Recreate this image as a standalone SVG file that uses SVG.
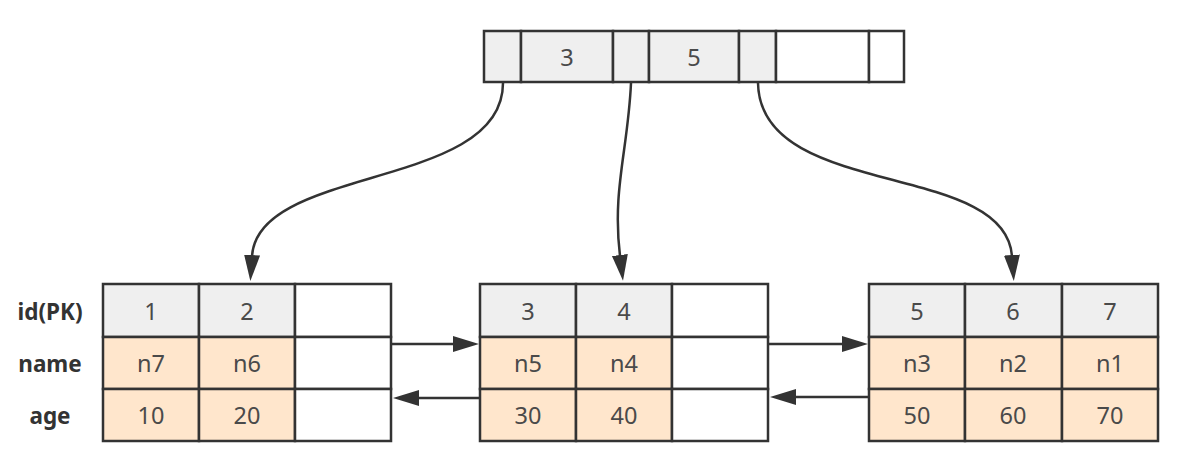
<svg xmlns="http://www.w3.org/2000/svg" width="1195" height="476" viewBox="0 0 1195 476">
<style>
.g{fill:#efefef;stroke:#333;stroke-width:2.5}
.o{fill:#ffe6cc;stroke:#333;stroke-width:2.5}
.w{fill:#fff;stroke:#333;stroke-width:2.5}
.v{font-family:"Noto Sans","Liberation Sans",sans-serif;font-size:23.5px;fill:#4a4a4a;text-anchor:middle;dominant-baseline:central}
.l{font-family:"Noto Sans","Liberation Sans",sans-serif;font-size:22.5px;font-weight:bold;fill:#333;text-anchor:middle;dominant-baseline:central}
.c{fill:none;stroke:#333;stroke-width:2.5;marker-end:url(#ah)}
</style>
<defs>
<marker id="ah" markerUnits="userSpaceOnUse" markerWidth="28" markerHeight="18" refX="1" refY="8" orient="auto">
<path d="M0,0 L26,8 L0,16 z" fill="#333"/>
</marker>
</defs>
<rect width="1195" height="476" fill="#fff"/>

<g id="root">
<rect class="g" x="484" y="31" width="37" height="51"/>
<rect class="g" x="521" y="31" width="92" height="51"/>
<rect class="g" x="613" y="31" width="36" height="51"/>
<rect class="g" x="649" y="31" width="90" height="51"/>
<rect class="g" x="739" y="31" width="37" height="51"/>
<rect class="w" x="776" y="31" width="93" height="51"/>
<rect class="w" x="869" y="31" width="35" height="51"/>
<text class="v" x="567" y="57">3</text>
<text class="v" x="694" y="57">5</text>
</g>

<g id="labels">
<text class="l" x="50" y="311">id(PK)</text>
<text class="l" x="50" y="363">name</text>
<text class="l" x="50" y="415">age</text>
</g>

<g id="leaf1">
<rect class="g" x="103" y="284" width="96" height="53"/>
<rect class="g" x="199" y="284" width="96" height="53"/>
<rect class="w" x="295" y="284" width="96" height="53"/>
<rect class="o" x="103" y="337" width="96" height="52"/>
<rect class="o" x="199" y="337" width="96" height="52"/>
<rect class="w" x="295" y="337" width="96" height="52"/>
<rect class="o" x="103" y="389" width="96" height="52"/>
<rect class="o" x="199" y="389" width="96" height="52"/>
<rect class="w" x="295" y="389" width="96" height="52"/>
<text class="v" x="151" y="311">1</text>
<text class="v" x="247" y="311">2</text>
<text class="v" x="151" y="363">n7</text>
<text class="v" x="247" y="363">n6</text>
<text class="v" x="151" y="415">10</text>
<text class="v" x="247" y="415">20</text>
</g>

<g id="leaf2">
<rect class="g" x="480" y="284" width="96" height="53"/>
<rect class="g" x="576" y="284" width="96" height="53"/>
<rect class="w" x="672" y="284" width="96" height="53"/>
<rect class="o" x="480" y="337" width="96" height="52"/>
<rect class="o" x="576" y="337" width="96" height="52"/>
<rect class="w" x="672" y="337" width="96" height="52"/>
<rect class="o" x="480" y="389" width="96" height="52"/>
<rect class="o" x="576" y="389" width="96" height="52"/>
<rect class="w" x="672" y="389" width="96" height="52"/>
<text class="v" x="528" y="311">3</text>
<text class="v" x="624" y="311">4</text>
<text class="v" x="528" y="363">n5</text>
<text class="v" x="624" y="363">n4</text>
<text class="v" x="528" y="415">30</text>
<text class="v" x="624" y="415">40</text>
</g>

<g id="leaf3">
<rect class="g" x="869" y="284" width="96" height="53"/>
<rect class="g" x="965" y="284" width="97" height="53"/>
<rect class="g" x="1062" y="284" width="96" height="53"/>
<rect class="o" x="869" y="337" width="96" height="52"/>
<rect class="o" x="965" y="337" width="97" height="52"/>
<rect class="o" x="1062" y="337" width="96" height="52"/>
<rect class="o" x="869" y="389" width="96" height="52"/>
<rect class="o" x="965" y="389" width="97" height="52"/>
<rect class="o" x="1062" y="389" width="96" height="52"/>
<text class="v" x="917" y="311">5</text>
<text class="v" x="1013" y="311">6</text>
<text class="v" x="1110" y="311">7</text>
<text class="v" x="917" y="363">n3</text>
<text class="v" x="1013" y="363">n2</text>
<text class="v" x="1110" y="363">n1</text>
<text class="v" x="917" y="415">50</text>
<text class="v" x="1013" y="415">60</text>
<text class="v" x="1110" y="415">70</text>
</g>

<g id="connectors">
<path class="c" d="M503,83 C503,190 258,165 252,256"/>
<path class="c" d="M631,83 C628,150 612,190 620,256"/>
<path class="c" d="M758,83 C760,200 1005,160 1012,256"/>
<path class="c" d="M392,344 L454,344"/>
<path class="c" d="M479,398 L418,398"/>
<path class="c" d="M769,344 L843,344"/>
<path class="c" d="M868,397 L795,397"/>
</g>
</svg>
